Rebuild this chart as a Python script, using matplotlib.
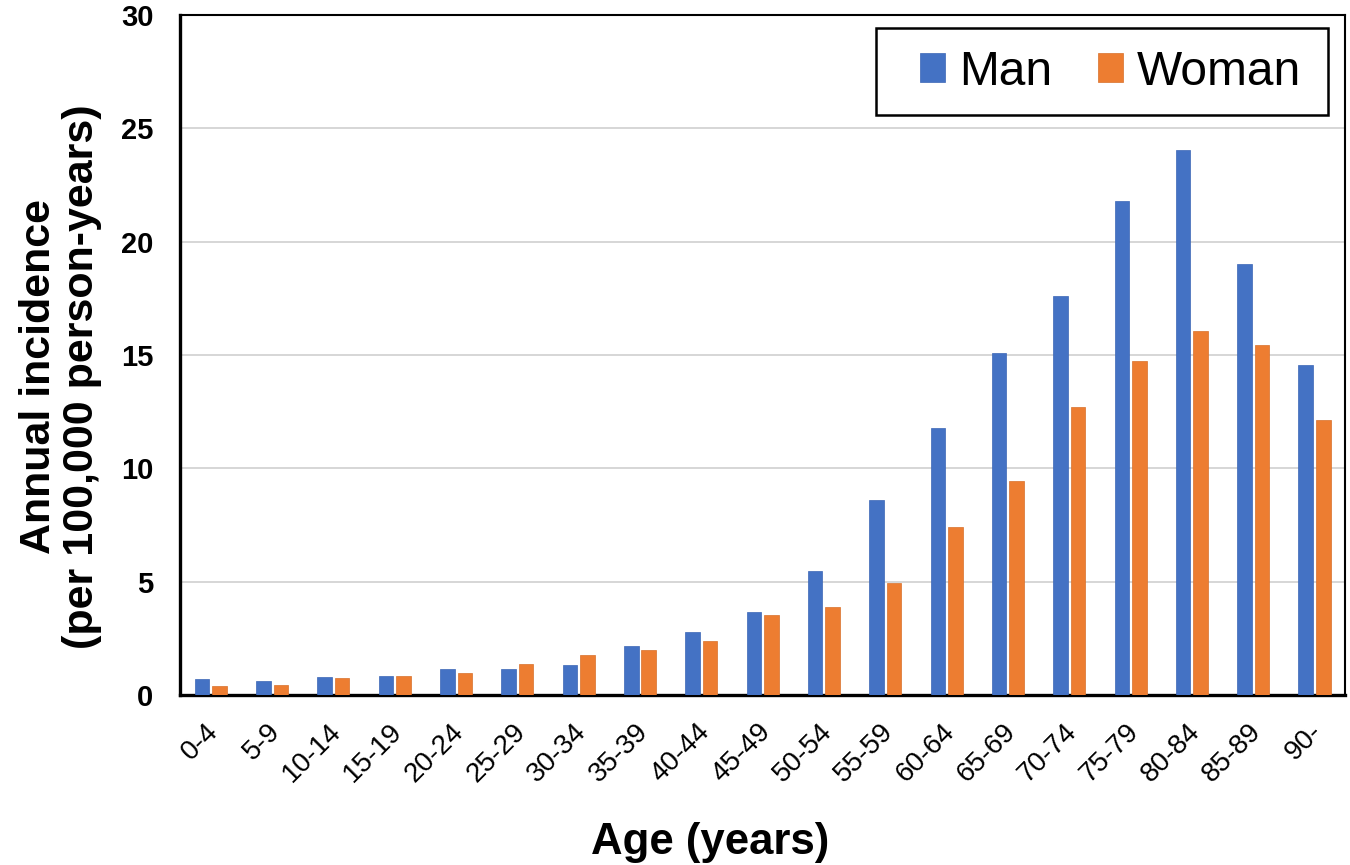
import matplotlib
matplotlib.use("Agg")
import matplotlib.pyplot as plt
import matplotlib.transforms as mtransforms
from matplotlib.patches import Rectangle
import numpy as np

plt.rcParams['font.family'] = ['Liberation Sans', 'DejaVu Sans']

categories = ["0-4", "5-9", "10-14", "15-19", "20-24", "25-29", "30-34", "35-39",
              "40-44", "45-49", "50-54", "55-59", "60-64", "65-69", "70-74",
              "75-79", "80-84", "85-89", "90-"]
man = [0.71, 0.62, 0.80, 0.84, 1.15, 1.15, 1.33, 2.17, 2.80, 3.68, 5.46, 8.61,
       11.76, 15.09, 17.62, 21.79, 24.06, 19.00, 14.56]
woman = [0.40, 0.44, 0.75, 0.84, 0.98, 1.38, 1.78, 2.00, 2.40, 3.55, 3.90, 4.93,
         7.41, 9.45, 12.69, 14.74, 16.07, 15.45, 12.12]
yticks = [0, 5, 10, 15, 20, 25, 30]

fig = plt.figure(figsize=(13.5, 8.65), dpi=100)
ax = fig.add_axes([0.1333, 0.1965, 0.8630, 0.7862])

x = np.arange(len(categories))
w = 0.237
ax.bar(x - 0.14, man, width=w, color="#4472C4", edgecolor="#3a65b5", linewidth=0.5, label="Man", zorder=3)
ax.bar(x + 0.145, woman, width=w, color="#ED7D31", edgecolor="#d8702a", linewidth=0.5, label="Woman", zorder=3)

ax.set_xlim(-0.5, len(categories) - 0.5)
ax.set_ylim(0, 30)
ax.set_yticks(yticks)
ax.set_yticklabels([str(t) for t in yticks], fontsize=21, fontweight="bold")
ax.set_xticks(x)
ax.set_xticklabels(categories, fontsize=20, rotation=45, ha="right", rotation_mode="anchor")
ax.tick_params(axis="both", length=0)
ax.tick_params(axis="y", pad=19)
ax.tick_params(axis="x", pad=17)
offset = mtransforms.ScaledTranslation(-5 / 100, 0, fig.dpi_scale_trans)
for lab in ax.get_xticklabels():
    lab.set_transform(lab.get_transform() + offset)

for t in yticks[1:-1]:
    ax.axhline(t, color="#d0d0d0", linewidth=1.2, zorder=1)

for s in ax.spines.values():
    s.set_color("black")
    s.set_linewidth(1.5)
ax.spines["left"].set_linewidth(2.4)
ax.spines["bottom"].set_linewidth(2.4)

ax.set_ylabel("Annual incidence\n(per 100,000 person-years)", fontsize=31, fontweight="bold", linespacing=1.1)
ax.yaxis.set_label_coords(-0.0665, 0.468)
ax.set_xlabel("Age (years)", fontsize=31.5, fontweight="bold", va="top")
ax.xaxis.set_label_coords(0.455, -0.187)

# legend frame
ax.add_patch(Rectangle((0.5974, 0.853), 0.388, 0.128, transform=ax.transAxes,
                       facecolor="white", edgecolor="black", linewidth=1.8, zorder=4))
leg = ax.legend(loc="center left", ncol=2, fontsize=34.5, frameon=False,
                handlelength=0.53, handleheight=0.53, handletextpad=0.28,
                columnspacing=0.96, borderpad=0, borderaxespad=0,
                bbox_to_anchor=(0.6352, 0.916))
leg.set_zorder(5)

fig.savefig("out.png", dpi=100)
